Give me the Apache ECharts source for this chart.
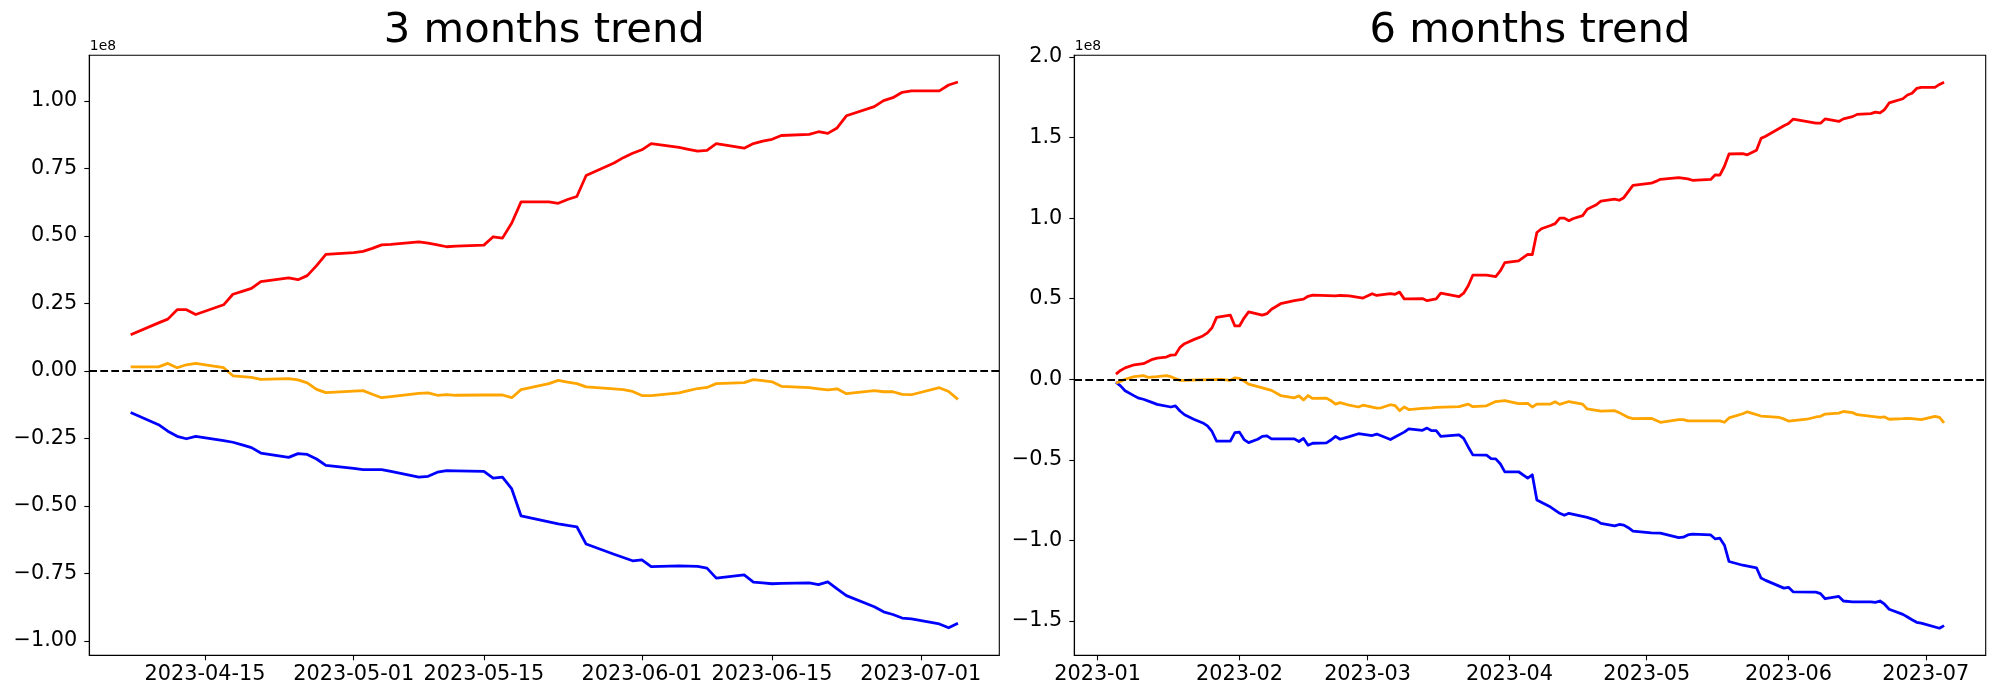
<!DOCTYPE html>
<html><head><meta charset="utf-8">
<script src="https://cdn.jsdelivr.net/npm/echarts@6/dist/echarts.min.js"></script>
<style>html,body{margin:0;padding:0;background:#fff}#c{width:2000px;height:700px}</style>
</head><body><div id="c"></div>
<script>
// ---------- data (values in units of 1e8) ----------
const titles = ['3 months trend', '6 months trend'];
const offsetText = '1e8';
const zeroLevel = 0;

const threeMonthDates = ['2023-04-07','2023-04-10','2023-04-11','2023-04-12','2023-04-13','2023-04-14','2023-04-17','2023-04-18','2023-04-19','2023-04-20','2023-04-21','2023-04-24','2023-04-25','2023-04-26','2023-04-27','2023-04-28',
'2023-05-01','2023-05-02','2023-05-03','2023-05-04','2023-05-05','2023-05-08','2023-05-09','2023-05-10','2023-05-11','2023-05-12','2023-05-15','2023-05-16','2023-05-17','2023-05-18','2023-05-19','2023-05-22','2023-05-23','2023-05-24','2023-05-25','2023-05-26','2023-05-29','2023-05-30','2023-05-31',
'2023-06-01','2023-06-02','2023-06-05','2023-06-06','2023-06-07','2023-06-08','2023-06-09','2023-06-12','2023-06-13','2023-06-14','2023-06-15','2023-06-16','2023-06-19','2023-06-20','2023-06-21','2023-06-22','2023-06-23','2023-06-26','2023-06-27','2023-06-28','2023-06-29','2023-06-30',
'2023-07-03','2023-07-04','2023-07-05'];
const threeMonthRed = [0.134,0.178,0.192,0.227,0.227,0.209,0.245,0.284,0.295,0.306,0.331,0.345,0.338,0.353,0.390,0.432,
0.438,0.443,0.454,0.467,0.469,0.478,0.473,0.467,0.460,0.462,0.466,0.497,0.492,0.548,0.626,0.626,0.621,0.635,0.646,0.724,0.770,0.790,0.806,
0.819,0.842,0.828,0.821,0.814,0.817,0.842,0.825,0.842,0.851,0.858,0.872,0.876,0.886,0.880,0.900,0.945,0.979,1.001,1.012,1.032,1.037,
1.037,1.059,1.070];
const threeMonthOrange = [0.015,0.015,0.028,0.012,0.023,0.028,0.012,-0.018,-0.021,-0.024,-0.031,-0.028,-0.033,-0.044,-0.068,-0.080,
-0.075,-0.073,-0.086,-0.099,-0.095,-0.083,-0.081,-0.090,-0.088,-0.090,-0.089,-0.089,-0.089,-0.099,-0.069,-0.047,-0.035,-0.041,-0.047,-0.059,-0.066,-0.069,-0.076,
-0.091,-0.091,-0.081,-0.073,-0.065,-0.061,-0.047,-0.043,-0.032,-0.036,-0.040,-0.057,-0.062,-0.066,-0.070,-0.066,-0.084,-0.073,-0.077,-0.077,-0.087,-0.088,
-0.062,-0.076,-0.105];
const threeMonthBlue = [-0.154,-0.199,-0.223,-0.242,-0.251,-0.242,-0.258,-0.264,-0.274,-0.284,-0.304,-0.320,-0.306,-0.309,-0.326,-0.350,
-0.361,-0.365,-0.365,-0.365,-0.372,-0.393,-0.390,-0.375,-0.369,-0.370,-0.372,-0.397,-0.393,-0.437,-0.537,-0.559,-0.566,-0.572,-0.577,-0.641,-0.679,-0.691,-0.703,
-0.700,-0.725,-0.722,-0.723,-0.724,-0.730,-0.767,-0.755,-0.782,-0.785,-0.788,-0.787,-0.785,-0.791,-0.781,-0.807,-0.832,-0.873,-0.892,-0.902,-0.915,-0.918,
-0.937,-0.951,-0.934];
const threeMonthXTicks = ['2023-04-15','2023-05-01','2023-05-15','2023-06-01','2023-06-15','2023-07-01'];
const threeMonthYTicks = [-1,-0.75,-0.5,-0.25,0,0.25,0.5,0.75,1];

// six-month series: day offsets counted from 2023-01-01 (0 = Jan 1)
const sixMonthRedDays = [4,5,6,8,10,12,13,15,16,17,18,19,21,23,24,25,26,29,30,31,32,33,36,37,38,40,43,45,46,47,52,53,55,58,60,61,64,65,66,67,68,71,72,74,75,79,80,81,82,85,87,88,89,92,94,95,96,97,99,100,101,102,103,104,106,107,108,109,110,113,114,115,117,121,122,123,127,129,130,134,135,136,137,138,141,142,144,145,146,150,151,152,157,158,159,162,163,165,166,169,170,171,172,173,176,177,178,179,180,183,184,185];
const sixMonthRed = [0.032,0.055,0.071,0.090,0.097,0.124,0.131,0.138,0.150,0.152,0.198,0.221,0.246,0.269,0.288,0.320,0.384,0.398,0.331,0.331,0.380,0.418,0.398,0.407,0.435,0.469,0.488,0.497,0.515,0.522,0.518,0.520,0.518,0.504,0.531,0.520,0.531,0.527,0.541,0.499,0.499,0.501,0.488,0.499,0.534,0.513,0.534,0.580,0.646,0.646,0.637,0.672,0.724,0.735,0.775,0.773,0.911,0.934,0.954,0.966,1.000,1.000,0.984,0.998,1.016,1.055,1.069,1.083,1.106,1.118,1.111,1.127,1.203,1.217,1.228,1.241,1.251,1.244,1.235,1.240,1.269,1.267,1.322,1.398,1.400,1.393,1.421,1.495,1.508,1.573,1.587,1.614,1.589,1.589,1.616,1.600,1.616,1.630,1.644,1.649,1.658,1.653,1.674,1.715,1.741,1.764,1.775,1.805,1.812,1.812,1.830,1.844];
const sixMonthBlueDays = [4,5,6,8,9,10,12,13,16,17,18,19,21,23,24,25,26,29,30,31,32,33,35,36,37,38,40,43,44,45,46,47,50,51,52,53,55,57,60,61,64,65,67,68,71,72,73,74,75,79,80,81,82,85,86,87,88,89,92,94,95,96,99,101,102,103,107,109,110,113,114,115,116,117,121,123,127,128,129,130,134,135,136,137,138,141,144,145,146,150,151,152,157,158,159,162,163,165,169,170,171,172,173,176,177,178,179,180,184,185];
const sixMonthBlue = [-0.018,-0.041,-0.071,-0.103,-0.117,-0.124,-0.145,-0.156,-0.172,-0.165,-0.197,-0.220,-0.248,-0.271,-0.289,-0.324,-0.384,-0.384,-0.331,-0.328,-0.374,-0.393,-0.372,-0.354,-0.351,-0.370,-0.370,-0.370,-0.386,-0.367,-0.409,-0.397,-0.395,-0.377,-0.354,-0.372,-0.356,-0.338,-0.349,-0.340,-0.374,-0.358,-0.328,-0.308,-0.317,-0.303,-0.319,-0.319,-0.354,-0.345,-0.367,-0.420,-0.469,-0.471,-0.492,-0.494,-0.524,-0.575,-0.574,-0.613,-0.593,-0.749,-0.793,-0.832,-0.844,-0.832,-0.857,-0.876,-0.894,-0.910,-0.901,-0.905,-0.921,-0.942,-0.953,-0.955,-0.983,-0.980,-0.966,-0.961,-0.966,-0.991,-0.986,-1.030,-1.131,-1.154,-1.170,-1.234,-1.248,-1.296,-1.291,-1.319,-1.321,-1.330,-1.362,-1.348,-1.376,-1.381,-1.381,-1.385,-1.376,-1.396,-1.427,-1.459,-1.475,-1.492,-1.508,-1.513,-1.545,-1.529];
const sixMonthOrangeDays = [4,5,6,8,10,11,13,15,16,18,19,22,25,27,29,30,31,32,33,35,38,40,43,44,45,46,47,50,51,52,53,55,57,58,61,62,64,65,66,67,68,71,73,74,79,81,82,85,87,88,89,92,94,95,96,99,100,101,103,106,107,110,113,114,116,117,121,123,127,128,129,134,136,137,138,141,142,145,149,150,151,155,157,158,159,162,163,165,166,171,172,173,176,177,178,180,183,184,185];
const sixMonthOrange = [-0.023,-0.014,0.000,0.016,0.023,0.012,0.016,0.023,0.016,-0.007,-0.007,-0.004,-0.002,0.000,-0.007,0.009,0.005,-0.011,-0.030,-0.046,-0.069,-0.101,-0.115,-0.103,-0.128,-0.101,-0.119,-0.117,-0.133,-0.154,-0.145,-0.161,-0.172,-0.161,-0.179,-0.177,-0.158,-0.163,-0.195,-0.172,-0.188,-0.181,-0.177,-0.174,-0.170,-0.154,-0.170,-0.165,-0.138,-0.135,-0.133,-0.151,-0.150,-0.172,-0.154,-0.154,-0.140,-0.156,-0.138,-0.154,-0.184,-0.197,-0.195,-0.207,-0.237,-0.244,-0.242,-0.267,-0.251,-0.251,-0.258,-0.258,-0.258,-0.267,-0.240,-0.214,-0.202,-0.228,-0.237,-0.246,-0.259,-0.248,-0.234,-0.230,-0.216,-0.210,-0.200,-0.207,-0.220,-0.237,-0.234,-0.248,-0.244,-0.242,-0.244,-0.251,-0.230,-0.237,-0.271];
const sixMonthStart = '2023-01-01';
const sixMonthXTicks = ['2023-01-01','2023-02-01','2023-03-01','2023-04-01','2023-05-01','2023-06-01','2023-07-01'];
const sixMonthYTicks = [-1.5,-1,-0.5,0,0.5,1,1.5,2];

// ---------- build ----------
const DAY = 86400000;
const t = s => Date.parse(s);
const base6 = t(sixMonthStart);
const pairsFromDates = (dates, vals) => dates.map((d, i) => [t(d), vals[i]]);
const pairsFromDays = (days, vals) => days.map((d, i) => [base6 + d * DAY, vals[i]]);
const minus = s => s.replace('-', '\u2212');
const FONT = 'DejaVu Sans';
const LW = 2.78;

const gridsPos = [
  { left: 89.3, top: 55.3, width: 910, height: 600 },
  { left: 1074.3, top: 55.3, width: 911.4, height: 600 }
];

function xAxisCfg(gi, min, max, ticks, fmt) {
  const vals = ticks.map(t);
  return {
    type: 'value', gridIndex: gi, min, max, scale: true,
    axisLine: { show: true, onZero: false, lineStyle: { color: '#000', width: 1.1 } },
    axisTick: { show: true, length: 5, lineStyle: { color: '#000', width: 1.1 }, customValues: vals },
    axisLabel: { show: true, customValues: vals, margin: 9, color: '#000', fontFamily: FONT, fontSize: 20.8, lineHeight: 21, formatter: v => fmt(v) },
    splitLine: { show: false }, minorTick: { show: false }
  };
}
function yAxisCfg(gi, min, max, ticks, digits) {
  return {
    type: 'value', gridIndex: gi, min, max,
    axisLine: { show: true, onZero: false, lineStyle: { color: '#000', width: 1.1 } },
    axisTick: { show: true, length: 5, lineStyle: { color: '#000', width: 1.1 }, customValues: ticks },
    axisLabel: { show: true, customValues: ticks, margin: 12, color: '#000', fontFamily: FONT, fontSize: 20.8, formatter: v => minus(Number(v).toFixed(digits)) },
    splitLine: { show: false }
  };
}
function lineSeries(gi, data, color, withZero) {
  const s = {
    type: 'line', xAxisIndex: gi, yAxisIndex: gi, data, symbol: 'none', showSymbol: false,
    lineStyle: { color, width: LW, join: 'round' }, itemStyle: { color }, animation: false, silent: true, z: 3
  };
  if (withZero) {
    s.markLine = {
      silent: true, symbol: 'none', animation: false, z: 5,
      label: { show: false },
      lineStyle: { color: '#000', width: 2.08, type: [7.7, 3.3] },
      data: [{ yAxis: zeroLevel }]
    };
  }
  return s;
}

const chart = echarts.init(document.getElementById('c'), null, { renderer: 'canvas' });
chart.setOption({
  backgroundColor: '#fff',
  animation: false,
  title: gridsPos.map((g, i) => ({
    text: titles[i], left: g.left + g.width / 2, top: 10.4, textAlign: 'center', padding: 0,
    textStyle: { fontFamily: FONT, fontSize: 41.67, fontWeight: 'normal', color: '#000', lineHeight: 42 }
  })),
  grid: gridsPos.map(g => Object.assign({ show: true, borderColor: '#000', borderWidth: 1.1, backgroundColor: 'transparent', containLabel: false }, g)),
  xAxis: [
    xAxisCfg(0, t(threeMonthDates[0]) - 4.45 * DAY, t(threeMonthDates[threeMonthDates.length - 1]) + 4.45 * DAY, threeMonthXTicks, v => new Date(v).toISOString().slice(0, 10)),
    xAxisCfg(1, base6 + (sixMonthRedDays[0] - 9.1) * DAY, base6 + (sixMonthRedDays[sixMonthRedDays.length - 1] + 9.1) * DAY, sixMonthXTicks, v => new Date(v).toISOString().slice(0, 7))
  ],
  yAxis: [
    yAxisCfg(0, -1.053, 1.169, threeMonthYTicks, 2),
    yAxisCfg(1, -1.713, 2.0106, sixMonthYTicks, 1)
  ],
  graphic: gridsPos.map(g => ({
    type: 'text', x: g.left + 0.5, y: 46.2, silent: true,
    style: { text: offsetText, fill: '#000', font: '13.9px "DejaVu Sans"', align: 'left', verticalAlign: 'middle' }
  })),
  series: [
    lineSeries(0, pairsFromDates(threeMonthDates, threeMonthRed), '#ff0000'),
    lineSeries(0, pairsFromDates(threeMonthDates, threeMonthBlue), '#0000ff'),
    lineSeries(0, pairsFromDates(threeMonthDates, threeMonthOrange), '#ffa500', true),
    lineSeries(1, pairsFromDays(sixMonthRedDays, sixMonthRed), '#ff0000'),
    lineSeries(1, pairsFromDays(sixMonthBlueDays, sixMonthBlue), '#0000ff'),
    lineSeries(1, pairsFromDays(sixMonthOrangeDays, sixMonthOrange), '#ffa500', true)
  ]
});
</script></body></html>
